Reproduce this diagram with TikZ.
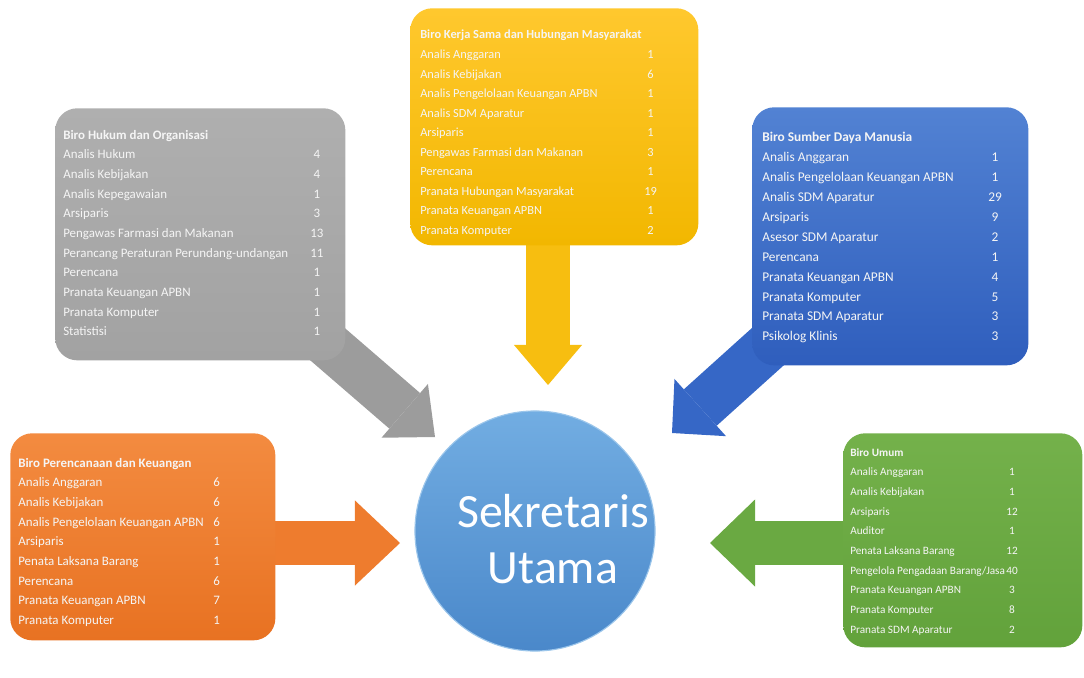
\documentclass[tikz,border=0pt]{standalone}
\usepackage{fontspec}
\setmainfont{Carlito}
\usetikzlibrary{arrows.meta,backgrounds}

\definecolor{greyTop}{HTML}{AFAFAF}
\definecolor{greyBot}{HTML}{A2A2A2}
\definecolor{greyArrow}{HTML}{9C9C9C}
\definecolor{yellowTop}{HTML}{FFC82E}
\definecolor{yellowBot}{HTML}{F2B700}
\definecolor{yellowArrow}{HTML}{F7BE10}
\definecolor{blueTop}{HTML}{5282D3}
\definecolor{blueBot}{HTML}{2F5EBD}
\definecolor{blueArrow}{HTML}{3667C6}
\definecolor{orangeTop}{HTML}{F38B40}
\definecolor{orangeBot}{HTML}{E87222}
\definecolor{orangeArrow}{HTML}{EE7C2E}
\definecolor{greenTop}{HTML}{74B14B}
\definecolor{greenBot}{HTML}{62A23B}
\definecolor{greenArrow}{HTML}{6AA942}
\definecolor{circTop}{HTML}{72ADE2}
\definecolor{circBot}{HTML}{4A88CA}

\tikzset{
    biro/.style={rounded corners=0.55cm, anchor=north west, inner sep=0pt},
    daftar/.style={anchor=north west, inner sep=0pt, text=white!96!black, font=\fontsize{9.2}{14}\selectfont},
    panah/.style n args={3}{line width=#1, -{Triangle[width=#2, length=#3, line width=0pt]}}
}

\begin{document}
\begin{tikzpicture}[x=0.025cm, y=-0.025cm]
    \useasboundingbox (0,0) rectangle (1084,677);

    \node[biro, top color=greyTop, bottom color=greyBot, minimum width=7.25cm, minimum height=6.3cm] (hukum) at (55,108) {};
    \node[biro, top color=yellowTop, bottom color=yellowBot, minimum width=7.2cm, minimum height=5.925cm] (kerjasama) at (410,8) {};
    \node[biro, top color=blueTop, bottom color=blueBot, minimum width=6.9cm, minimum height=6.45cm] (sdm) at (752,107) {};
    \node[biro, top color=orangeTop, bottom color=orangeBot, minimum width=6.625cm, minimum height=5.175cm] (keuangan) at (10,433) {};
    \node[biro, top color=greenTop, bottom color=greenBot, minimum width=5.975cm, minimum height=5.35cm] (umum) at (843,433) {};

    \node[circle, minimum size=6cm, top color=circTop, bottom color=circBot, draw=circTop!70!white, line width=0.8pt] (sekum) at (535,531) {};
    \node[text=white, align=center, font=\fontsize{34}{40}\selectfont] (sekumtext) at ([shift={(18,8)}]sekum.center) {Sekretaris\\Utama};

    \node[daftar] (hukumlist) at (63,125) {\begin{tabular}{@{}p{6.175cm}@{}c@{}}
        \multicolumn{2}{@{}l@{}}{\bfseries Biro Hukum dan Organisasi}\\
        Analis Hukum & 4\\
        Analis Kebijakan & 4\\
        Analis Kepegawaian & 1\\
        Arsiparis & 3\\
        Pengawas Farmasi dan Makanan & 13\\
        Perancang Peraturan Perundang-undangan & 11\\
        Perencana & 1\\
        Pranata Keuangan APBN & 1\\
        Pranata Komputer & 1\\
        Statistisi & 1\\
    \end{tabular}};

    \node[daftar, font=\fontsize{8.8}{13.9}\selectfont] (kerjasamalist) at (420,25) {\begin{tabular}{@{}p{5.6cm}@{}c@{}}
        \multicolumn{2}{@{}l@{}}{\bfseries Biro Kerja Sama dan Hubungan Masyarakat}\\
        Analis Anggaran & 1\\
        Analis Kebijakan & 6\\
        Analis Pengelolaan Keuangan APBN & 1\\
        Analis SDM Aparatur & 1\\
        Arsiparis & 1\\
        Pengawas Farmasi dan Makanan & 3\\
        Perencana & 1\\
        Pranata Hubungan Masyarakat & 19\\
        Pranata Keuangan APBN & 1\\
        Pranata Komputer & 2\\
    \end{tabular}};

    \node[daftar, font=\fontsize{9.5}{14.2}\selectfont] (sdmlist) at (762,127) {\begin{tabular}{@{}p{5.65cm}@{}c@{}}
        \multicolumn{2}{@{}l@{}}{\bfseries Biro Sumber Daya Manusia}\\
        Analis Anggaran & 1\\
        Analis Pengelolaan Keuangan APBN & 1\\
        Analis SDM Aparatur & 29\\
        Arsiparis & 9\\
        Asesor SDM Aparatur & 2\\
        Perencana & 1\\
        Pranata Keuangan APBN & 4\\
        Pranata Komputer & 5\\
        Pranata SDM Aparatur & 3\\
        Psikolog Klinis & 3\\
    \end{tabular}};

    \node[daftar] (keuanganlist) at (18,453) {\begin{tabular}{@{}p{4.875cm}@{}c@{}}
        \multicolumn{2}{@{}l@{}}{\bfseries Biro Perencanaan dan Keuangan}\\
        Analis Anggaran & 6\\
        Analis Kebijakan & 6\\
        Analis Pengelolaan Keuangan APBN & 6\\
        Arsiparis & 1\\
        Penata Laksana Barang & 1\\
        Perencana & 6\\
        Pranata Keuangan APBN & 7\\
        Pranata Komputer & 1\\
    \end{tabular}};

    \node[daftar, font=\fontsize{8}{14}\selectfont] (umumlist) at (850,442) {\begin{tabular}{@{}p{3.9cm}@{}c@{}}
        \multicolumn{2}{@{}l@{}}{\bfseries Biro Umum}\\
        Analis Anggaran & 1\\
        Analis Kebijakan & 1\\
        Arsiparis & 12\\
        Auditor & 1\\
        Penata Laksana Barang & 12\\
        Pengelola Pengadaan Barang/Jasa & 40\\
        Pranata Keuangan APBN & 3\\
        Pranata Komputer & 8\\
        Pranata SDM Aparatur & 2\\
    \end{tabular}};

    % ujung panah
    \coordinate (hukumtip) at (435,437);
    \coordinate (kerjasamatip) at (548,385);
    \coordinate (sdmtip) at (672,433);
    \coordinate (keuangantip) at (400,543);
    \coordinate (umumtip) at (710,543);

    \begin{pgfonlayer}{background}
        \draw[panah={1.175cm}{1.775cm}{1cm}, draw=greyArrow] (hukum.center) -- (hukumtip);
        \draw[panah={1.1cm}{1.7cm}{1cm}, draw=yellowArrow] (kerjasamatip |- kerjasama.center) -- (kerjasamatip);
        \draw[panah={1.225cm}{1.925cm}{0.95cm}, draw=blueArrow] (sdm.center) -- (sdmtip);
        \draw[panah={1.1cm}{2.125cm}{1.125cm}, draw=orangeArrow] (keuangantip -| keuangan.center) -- (keuangantip);
        \draw[panah={1.1cm}{2.175cm}{1.125cm}, draw=greenArrow] (umumtip -| umum.center) -- (umumtip);
    \end{pgfonlayer}
\end{tikzpicture}
\end{document}
